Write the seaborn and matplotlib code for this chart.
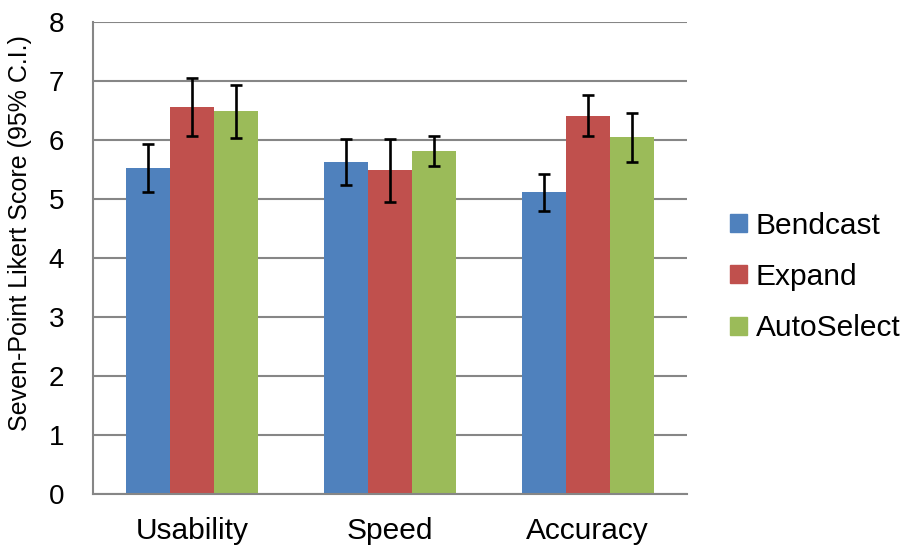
import pandas as pd
import numpy as np
import matplotlib
matplotlib.use("Agg")
import matplotlib.pyplot as plt
import seaborn as sns

# Datos
categorias = ["Usability", "Speed", "Accuracy"]
tecnicas = ["Bendcast", "Expand", "AutoSelect"]
bendcast = [5.52, 5.63, 5.11]
expand = [6.56, 5.48, 6.41]
autoselect = [6.48, 5.81, 6.04]
ci_bendcast = [0.40, 0.39, 0.31]
ci_expand = [0.49, 0.53, 0.35]
ci_autoselect = [0.45, 0.26, 0.41]

colores = ["#4F81BD", "#C0504D", "#9BBB59"]
gris = "#868686"

df = pd.DataFrame({
    "categoria": categorias * 3,
    "tecnica": [t for t in tecnicas for _ in categorias],
    "score": bendcast + expand + autoselect,
    "ci": ci_bendcast + ci_expand + ci_autoselect,
})

sns.set_style("white")
plt.rcParams["font.family"] = ["Liberation Sans", "DejaVu Sans"]
plt.rcParams["text.color"] = "black"
plt.rcParams["xtick.color"] = "black"
plt.rcParams["ytick.color"] = "black"
plt.rcParams["axes.labelcolor"] = "black"

fig = plt.figure(figsize=(9.14, 5.54), dpi=100)
ax = fig.add_axes([0.1021, 0.1088, 0.6492, 0.852])

sns.barplot(data=df, x="categoria", y="score", hue="tecnica", order=categorias,
            hue_order=tecnicas, palette=colores, width=0.667, gap=0,
            errorbar=None, linewidth=0, saturation=1, ax=ax, zorder=2)

# Barras de error desde las barras dibujadas
for cont, t in zip(ax.containers, tecnicas):
    sub = df[df["tecnica"] == t].set_index("categoria").loc[categorias]
    xs = [p.get_x() + p.get_width() / 2 for p in cont.patches]
    ax.errorbar(xs, sub["score"].values, yerr=sub["ci"].values, fmt="none",
                ecolor="black", elinewidth=1.9, capsize=4, capthick=1.9, zorder=3)

ax.set_ylim(0, 8)
ax.set_xlim(-0.5, 2.5)
ax.set_yticks(range(0, 9))
ax.yaxis.grid(True, color=gris, linewidth=1.5, zorder=0)
ax.set_axisbelow(True)
ax.set_xlabel("")
ax.set_ylabel("Seven-Point Likert Score (95% C.I.)", fontsize=18)
ax.yaxis.set_label_coords(-0.103, 0.552)

ax.set_xticks([-0.5, 0.5, 1.5, 2.5], minor=True)
ax.tick_params(axis="x", which="major", length=0, labelsize=21.5, pad=17)
ax.tick_params(axis="x", which="minor", length=7.2, width=1.5, color=gris, direction="out")
ax.tick_params(axis="y", length=7, width=1.5, color=gris, labelcolor="black",
               labelsize=20, direction="out", pad=14)

for s in ["top", "right"]:
    ax.spines[s].set_visible(False)
for s in ["left", "bottom"]:
    ax.spines[s].set_color(gris)
    ax.spines[s].set_linewidth(1.5)

ax.legend_.remove()
handles = [plt.Rectangle((0, 0), 1, 1, color=c) for c in colores]
fig.legend(handles, tecnicas, loc="center left", bbox_to_anchor=(0.786, 0.5),
           frameon=False, fontsize=21.5, handlelength=0.55, handleheight=0.55,
           handletextpad=0.3, labelspacing=0.78, borderaxespad=0)

plt.savefig("out.png", dpi=100)
